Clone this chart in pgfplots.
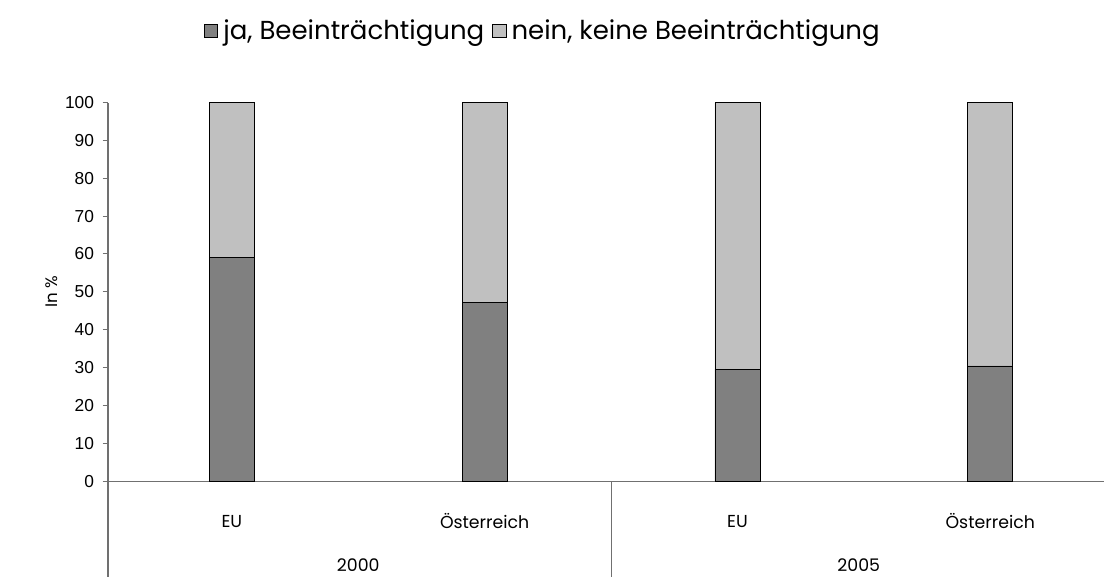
\documentclass[border=0pt]{standalone}
\usepackage{fontspec}
\setmainfont{Poppins}
\newfontfamily\arialf{Liberation Sans}
\usepackage{pgfplots}
\pgfplotsset{compat=1.18}
\definecolor{darkbar}{HTML}{808080}
\definecolor{lightbar}{HTML}{C0C0C0}
\definecolor{axgray}{HTML}{707070}
\begin{document}
\begin{tikzpicture}
\path[use as bounding box] (-81pt,-71.25pt) rectangle (747pt,360.8pt);
\begin{axis}[
  at={(0,0)}, anchor=south west,
  scale only axis,
  width=747pt, height=283.9pt,
  xmin=-0.49, xmax=3.45, ymin=0, ymax=100,
  ybar stacked, bar width=33.75pt,
  axis x line=bottom, axis y line=left,
  axis line style={-, draw=axgray, line width=0.8pt},
  clip=false,
  ytick={0,10,...,100},
  ytick style={draw=axgray, line width=0.8pt},
  major tick length=4pt,
  tick align=outside,
  /pgf/number format/assume math mode=true,
  yticklabel style={font=\arialf\fontsize{13}{15}\selectfont, xshift=-3pt},
  xtick={0,1,2,3},
  xticklabels={EU,Österreich,EU,Österreich},
  x tick style={draw=none},
  xticklabel style={anchor=center, yshift=-26.25pt, font=\fontsize{13}{15}\selectfont},
  ylabel={In \%},
  ylabel style={at={(axis description cs:-0.0562,0.5)}, anchor=center, font=\fontsize{12.5}{15}\selectfont},
  legend style={at={(axis description cs:0.437,1.19)}, anchor=center, draw=none,
    font=\fontsize{19.5}{22}\selectfont,
    /tikz/every odd column/.append style={column sep=2pt},
    /tikz/every even column/.append style={column sep=4pt}},
  legend columns=2,
  legend image code/.code={\draw[#1, draw=black, line width=0.5pt] (0pt,-5pt) rectangle (10pt,5pt);},
]
\addplot[fill=darkbar, draw=black, line width=0.6pt] coordinates {(0,59.0) (1,47.3) (2,29.6) (3,30.4)};
\addplot[fill=lightbar, draw=black, line width=0.6pt] coordinates {(0,41.0) (1,52.7) (2,70.4) (3,69.6)};
\legend{ja{,} Beeinträchtigung, nein{,} keine Beeinträchtigung}
\draw[axgray, line width=0.8pt] (axis cs:-0.49,0) -- ([yshift=-80pt]axis cs:-0.49,0);
\draw[axgray, line width=0.8pt] (axis cs:1.5,0) -- ([yshift=-80pt]axis cs:1.5,0);
\node[font=\fontsize{13}{15}\selectfont, anchor=center] at ([yshift=-63pt]axis cs:0.5,0) {2000};
\node[font=\fontsize{13}{15}\selectfont, anchor=center] at ([yshift=-63pt]axis cs:2.48,0) {2005};
\end{axis}
\end{tikzpicture}
\end{document}
